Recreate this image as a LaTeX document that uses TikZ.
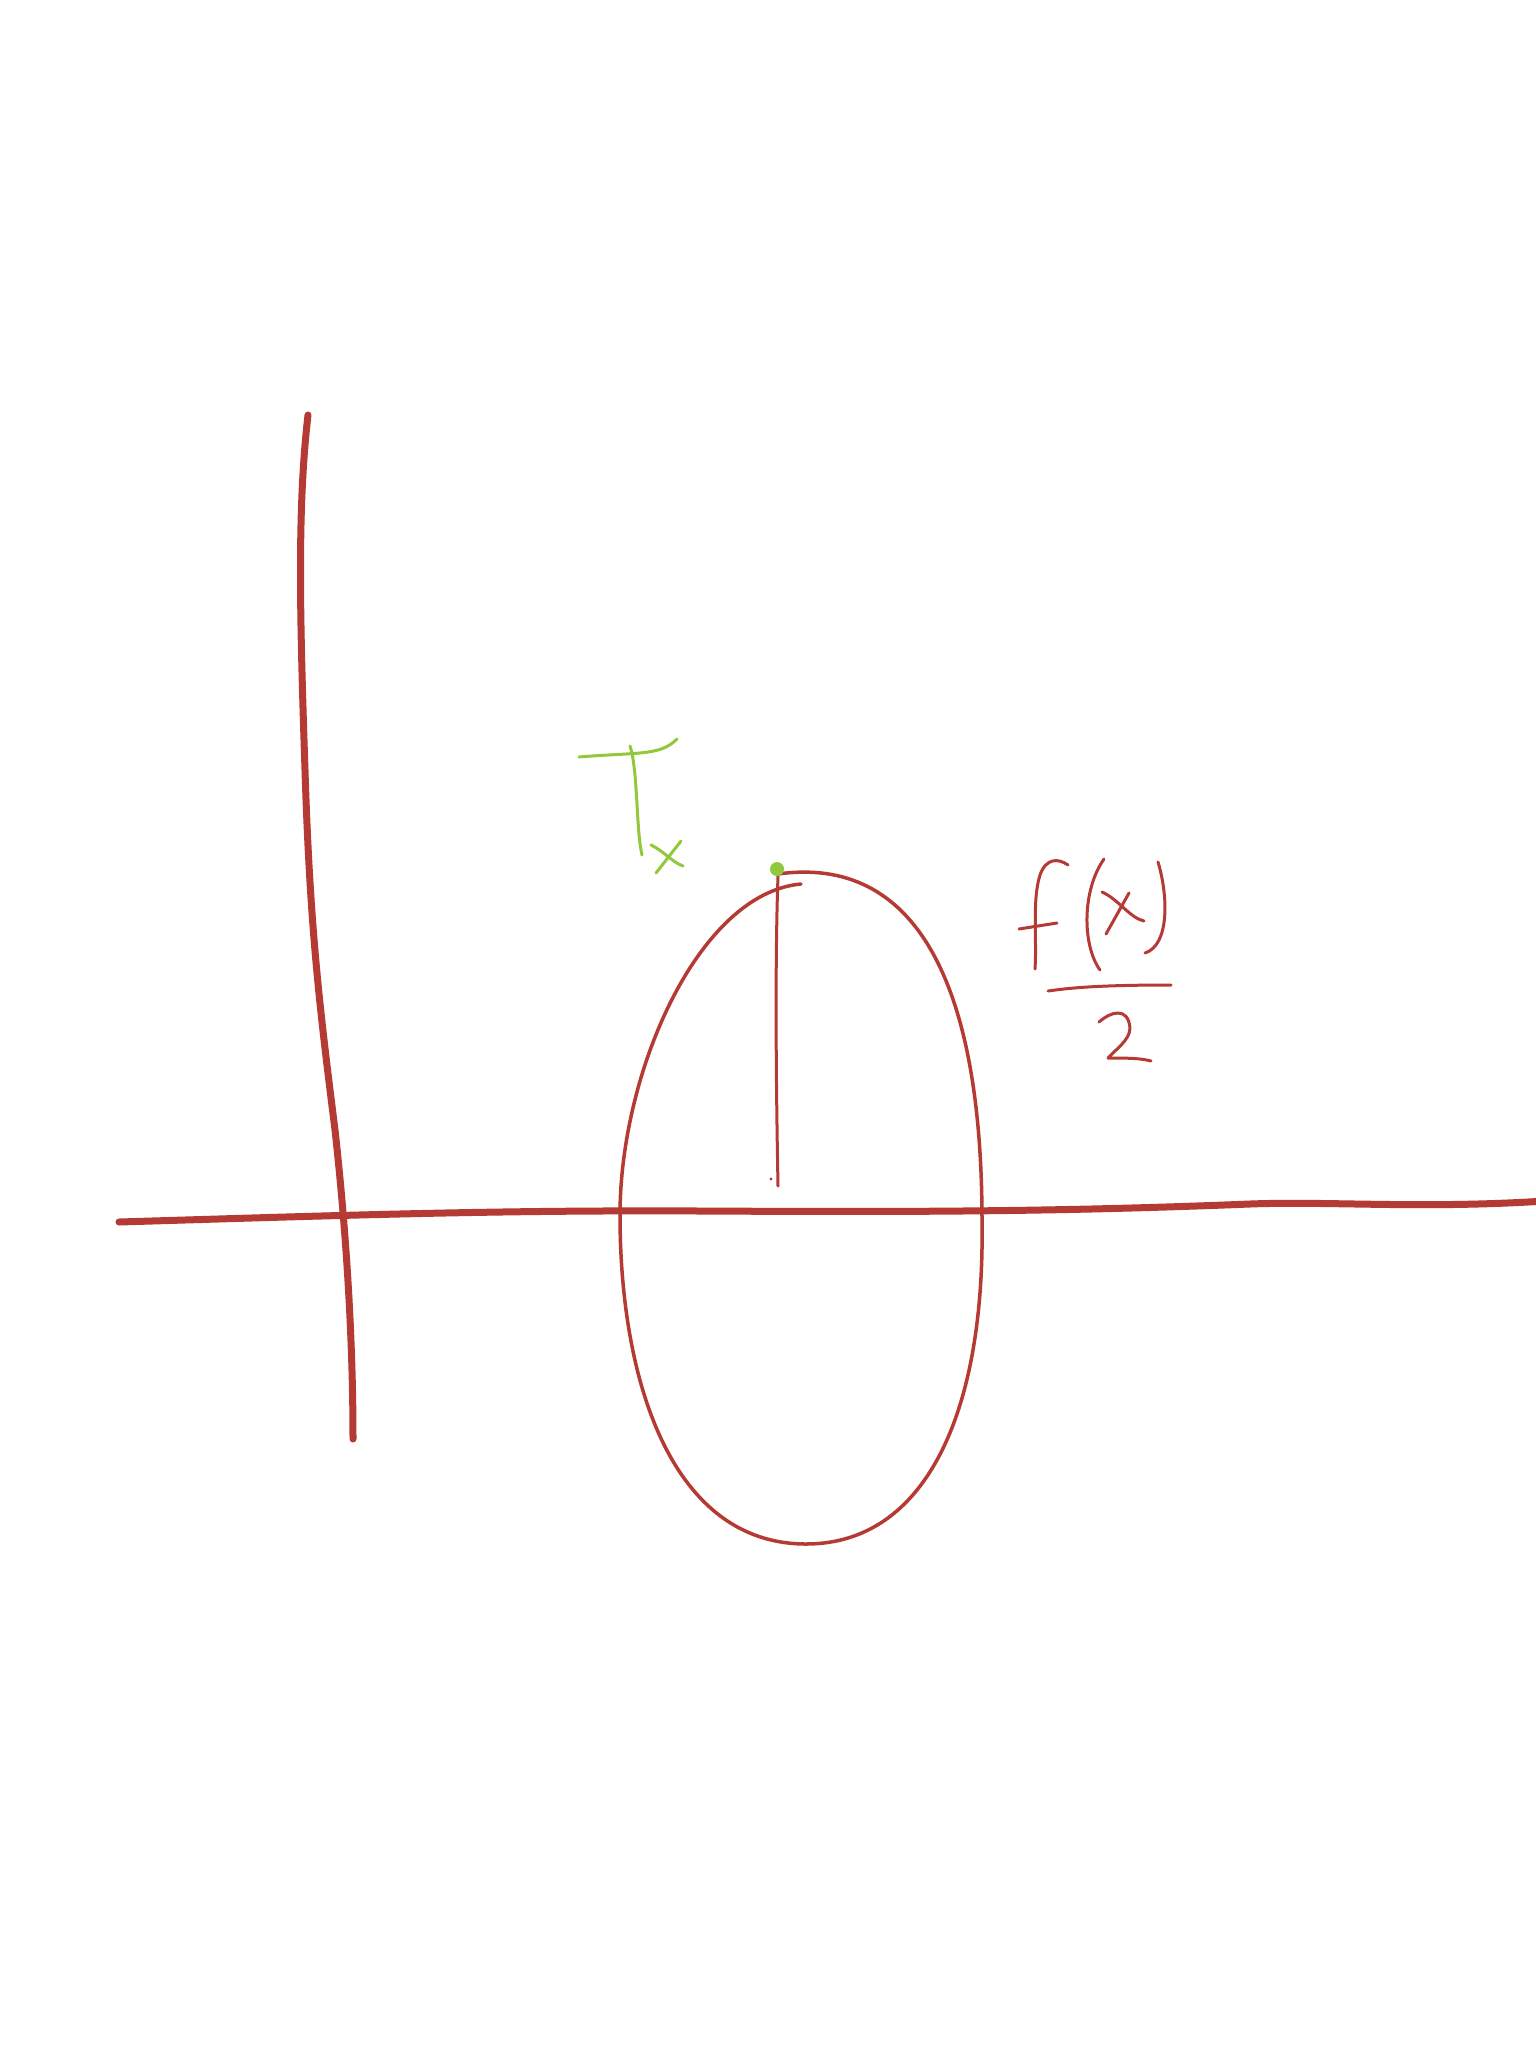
\documentclass[tikz,border=0pt]{standalone}
\definecolor{penred}{RGB}{181,58,52}
\definecolor{pengreen}{RGB}{146,200,60}
\tikzset{
  axisline/.style={draw=penred, line width=7pt, line cap=round, line join=round},
  curveline/.style={draw=penred, line width=3.5pt, line cap=round, line join=round},
  inkred/.style={draw=penred, line width=3pt, line cap=round, line join=round},
  inkgreen/.style={draw=pengreen, line width=3pt, line cap=round, line join=round}
}
\begin{document}
\begin{tikzpicture}[x=1pt,y=-1pt]
\useasboundingbox (0,0) rectangle (1536,2048);
\fill[white] (0,0) rectangle (1536,2048);
% vertical axis
\draw[axisline] (308,415) .. controls (297,510) and (300,620) .. (305,770)
  .. controls (310,930) and (320,1010) .. (335,1130)
  .. controls (345,1220) and (353,1330) .. (353,1439);
% horizontal axis
\draw[axisline] (119,1222) .. controls (350,1215) and (500,1210) .. (700,1211)
  .. controls (900,1212) and (1050,1212) .. (1250,1204)
  .. controls (1330,1201) and (1420,1209) .. (1545,1201);
% loop curve
\draw[curveline] (778,874) .. controls (914,855) and (982,980) .. (982,1221)
  .. controls (985,1410) and (927,1544) .. (806,1544)
  .. controls (673,1544) and (620,1384) .. (620,1215)
  .. controls (620,1071) and (699,893) .. (801,884);
% vertical line from top
\draw[inkred] (778,876) .. controls (775,960) and (776,1080) .. (778,1186);
\fill[penred] (771,1179) circle (1.6pt);
% green point
\fill[pengreen] (777,869) circle (7pt);
% green T_x
\draw[inkgreen] (579,757) .. controls (640,752) and (660,756) .. (677,739);
\draw[inkgreen] (630,746) .. controls (638,770) and (636,830) .. (642,855);
\draw[inkgreen] (651,845) .. controls (665,852) and (672,862) .. (683,866);
\draw[inkgreen] (681,841) -- (656,873);
% f(x)/2
\draw[inkred] (1035,969) .. controls (1037,940) and (1032,900) .. (1040,875)
  .. controls (1046,858) and (1058,858) .. (1068,865);
\draw[inkred] (1019,929) -- (1057,923);
\draw[inkred] (1104,859) .. controls (1082,890) and (1082,945) .. (1100,970);
\draw[inkred] (1102,892) .. controls (1118,899) and (1130,918) .. (1144,921);
\draw[inkred] (1129,893) -- (1106,934);
\draw[inkred] (1158,862) .. controls (1168,895) and (1170,945) .. (1145,953);
\draw[inkred] (1048,991) .. controls (1075,987) and (1110,985) .. (1171,985);
\draw[inkred] (1099,1022) .. controls (1110,1012) and (1128,1006) .. (1130,1028)
  .. controls (1130,1040) and (1115,1050) .. (1108,1058)
  .. controls (1125,1058) and (1140,1058) .. (1151,1061);
\end{tikzpicture}
\end{document}
